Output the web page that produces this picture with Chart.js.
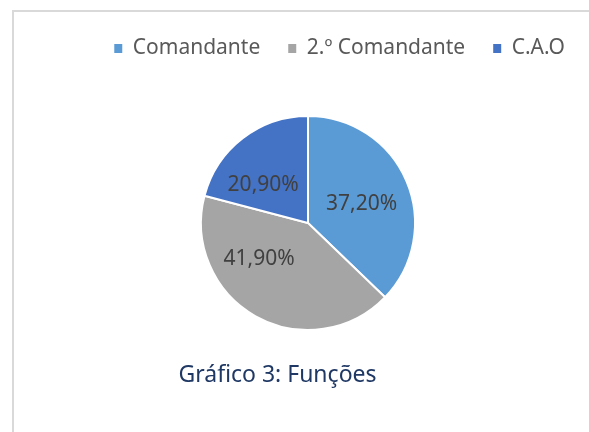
<!DOCTYPE html>
<html lang="pt">
<head>
<meta charset="utf-8">
<script src="https://cdn.jsdelivr.net/npm/chart.js@4/dist/chart.umd.min.js"></script>
<style>
    html, body { margin: 0; padding: 0; background: #fff; overflow: hidden; width: 589px; height: 432px; }
    #frame { position: absolute; left: 12px; top: 10px; width: 600px; height: 440px;
             border-left: 2px solid #d9d9d9; border-top: 2px solid #d9d9d9; }
    #wrap { position: absolute; left: 0; top: 0; width: 593px; height: 432px; }
    #caption { position: absolute; left: 0; top: 357px; width: 555px; line-height: 32px;
               text-align: center; font-family: 'Noto Sans', sans-serif; font-size: 23px; color: #1f3864; }
</style>
</head>
<body>
<div id="frame"></div>
<div id="wrap"><canvas id="pieChart"></canvas></div>
<div id="caption">Gráfico 3: Funções</div>
<script>
// data
const functions = ['Comandante', '2.º Comandante', 'C.A.O'];
const shares = [37.2, 41.9, 20.9];

const fmtPct = v => v.toFixed(2).replace('.', ',') + '%';

// push the pie down below the legend
const legendGap = {
    id: 'legendGap',
    beforeInit(chart) {
        if (!chart.legend) return;
        const fit = chart.legend.fit;
        chart.legend.fit = function () {
            fit.call(this);
            this.height += 46;
        };
    }
};

// percentage labels inside the slices
const pctLabels = {
    id: 'pctLabels',
    afterDatasetsDraw(chart, args, opts) {
        const ctx = chart.ctx;
        const meta = chart.getDatasetMeta(0);
        ctx.save();
        ctx.font = opts.font;
        ctx.fillStyle = opts.color;
        ctx.textAlign = 'center';
        ctx.textBaseline = 'middle';
        meta.data.forEach((arc, i) => {
            const p = arc.getProps(['x', 'y', 'startAngle', 'endAngle', 'outerRadius'], true);
            const n = opts.nudge[i] || { angle: 0, r: 0.5 };
            const a = (p.startAngle + p.endAngle) / 2 + n.angle * Math.PI / 180;
            const r = p.outerRadius * n.r;
            ctx.fillText(fmtPct(shares[i]), p.x + Math.cos(a) * r, p.y + Math.sin(a) * r);
        });
        ctx.restore();
    }
};

Chart.defaults.font.family = "'Noto Sans', sans-serif";

new Chart(document.getElementById('pieChart'), {
    type: 'pie',
    data: {
        labels: functions,
        datasets: [{
            data: shares,
            backgroundColor: ['#5b9bd5', '#a5a5a5', '#4472c4'],
            borderColor: '#ffffff',
            borderWidth: 2
        }]
    },
    options: {
        responsive: true,
        maintainAspectRatio: false,
        animation: false,
        layout: { padding: { top: 10, left: 23, right: 0, bottom: 101 } },
        plugins: {
            tooltip: { enabled: false },
            legend: {
                position: 'top',
                align: 'end',
                labels: {
                    color: '#595959',
                    font: { size: 21 },
                    boxWidth: 8,
                    boxHeight: 9,
                    padding: 28,
                    // plain squares, no white outline
                    generateLabels(chart) {
                        return Chart.overrides.doughnut.plugins.legend.labels.generateLabels(chart)
                            .map(l => ({ ...l, lineWidth: 0 }));
                    }
                }
            },
            pctLabels: {
                font: "21px 'Noto Sans', sans-serif",
                color: '#404040',
                nudge: [
                    { angle: 4, r: 0.53 },
                    { angle: 24, r: 0.57 },
                    { angle: -12, r: 0.55 }
                ]
            }
        }
    },
    plugins: [legendGap, pctLabels]
});
</script>
</body>
</html>
